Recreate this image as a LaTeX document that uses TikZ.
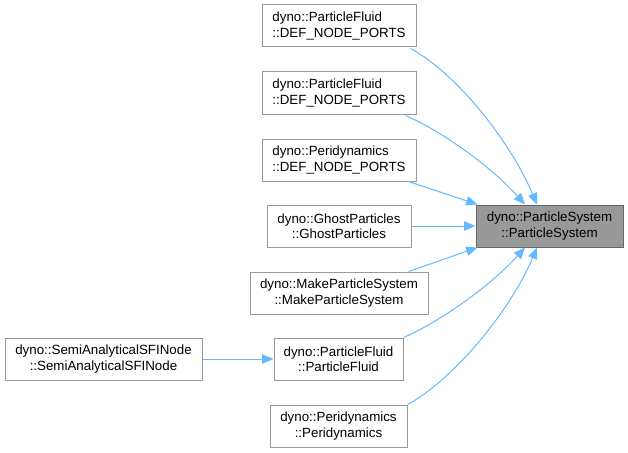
\documentclass[tikz,border=0pt]{standalone}
\usepackage{fontspec}
\setmainfont{Liberation Sans}
\usetikzlibrary{arrows.meta,calc}
\definecolor{edgeblue}{HTML}{63B8FF}
\definecolor{boxline}{HTML}{999999}
\definecolor{mainfill}{HTML}{999999}
\definecolor{mainline}{HTML}{666666}
\begin{document}
\begin{tikzpicture}[x=0.75pt,y=-0.75pt,
  box/.style={draw=boxline,line width=0.75pt,fill=white,inner sep=0pt,minimum height=31.5pt,
    font=\fontsize{10}{11.4}\selectfont,align=center},
  lbox/.style={box,align=left},
  mainbox/.style={box,draw=mainline,fill=mainfill},
  edge/.style={draw=edgeblue,line width=0.75pt,-{Triangle[length=8.5pt,width=7pt]}}]
\useasboundingbox (0,0) rectangle (628,453);
\node[lbox,minimum width=115.5pt] (n1) at (339,26) {dyno::ParticleFluid\\::DEF\_NODE\_PORTS};
\node[lbox,minimum width=115.5pt] (n2) at (339,93) {dyno::ParticleFluid\\::DEF\_NODE\_PORTS};
\node[lbox,minimum width=115.5pt] (n3) at (339,160) {dyno::Peridynamics\\::DEF\_NODE\_PORTS};
\node[box,minimum width=108pt] (ghost) at (339,226) {dyno::GhostParticles\\::GhostParticles};
\node[box,minimum width=133.5pt] (make) at (339,293) {dyno::MakeParticleSystem\\::MakeParticleSystem};
\node[box,minimum width=96.75pt] (pf) at (338.5,359) {dyno::ParticleFluid\\::ParticleFluid};
\node[box,minimum width=102.75pt] (peri) at (338.5,426) {dyno::Peridynamics\\::Peridynamics};
\node[box,minimum width=147.75pt] (semi) at (103.5,359) {dyno::SemiAnalyticalSFINode\\::SemiAnalyticalSFINode};
\node[mainbox,minimum width=110.25pt] (ps) at (549.5,226) {dyno::ParticleSystem\\::ParticleSystem};
\path[edge] ($(n1.south east)+(-6,1)$) .. controls +(45,24) and +(-27,-64) .. ($(ps.north)+(-12.5,0)$);
\path[edge] ($(n2.south east)+(-11,1)$) .. controls +(35,15) and +(-35,-39) .. ($(ps.north)+(-24.5,0)$);
\path[edge] ($(n3.south east)+(-8,0)$) -- ($(ps.north west)+(2,0)$);
\path[edge] (ghost.east) -- (ps.west);
\path[edge] ($(make.north east)+(-20,0)$) -- ($(ps.south west)+(2,0)$);
\path[edge] (pf.north east) .. controls +(35,-15) and +(-35,39) .. ($(ps.south)+(-24.5,0)$);
\path[edge] (peri.north east) .. controls +(45,-24) and +(-27,64) .. ($(ps.south)+(-12.5,0)$);
\path[edge] (semi.east) -- (pf.west);
\end{tikzpicture}
\end{document}
